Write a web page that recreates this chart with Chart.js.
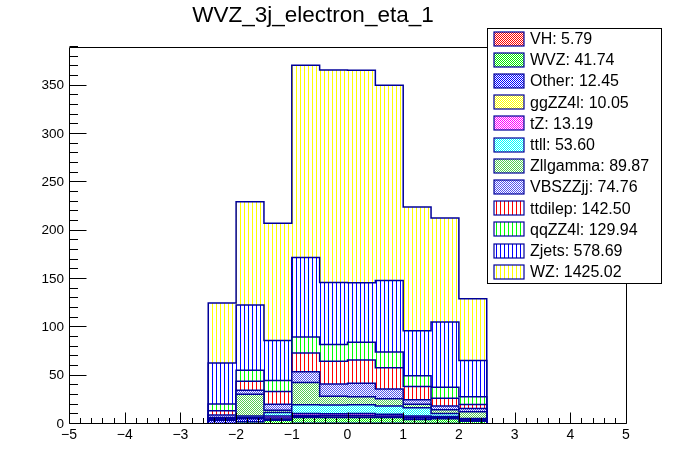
<!DOCTYPE html>
<html>
<head>
<meta charset="utf-8">
<script src="https://cdn.jsdelivr.net/npm/chart.js"></script>
<style>
  html, body { margin: 0; padding: 0; background: #fff; }
  #wrap { width: 696px; height: 472px; }
</style>
</head>
<body>
<div id="wrap"><canvas id="histChart" width="696" height="472"></canvas></div>
<script>
// bin edges of the eta histogram (only non-empty range)
const binEdges = [-2.5, -2, -1.5, -1, -0.5, 0, 0.5, 1, 1.5, 2, 2.5];

// per-bin yields, stack order bottom -> top
const VH       = [0.2, 0.4, 0.3, 0.8, 0.8, 0.8, 0.7, 0.6, 0.4, 0.3];
const WVZ      = [0.3, 2.0, 3.7, 6.0, 6.0, 6.0, 6.0, 4.0, 5.0, 2.5];
const Other    = [3.5, 3.0, 1.0, 0.6, 0.5, 0.5, 0.5, 1.5, 0.4, 1.0];
const ggZZ4l   = [0.5, 0.6, 1.2, 1.5, 1.5, 1.5, 1.2, 1.0, 1.0, 0.6];
const tZ       = [0.3, 0.6, 2.0, 2.0, 1.8, 2.0, 1.8, 1.2, 1.0, 0.5];
const ttll     = [1.0, 1.7, 3.6, 9.0, 9.0, 9.0, 8.5, 8.5, 3.0, 0.8];
const Zllgamma = [1.0, 22.5, 2.5, 23.1, 9.0, 8.5, 7.5, 3.7, 4.0, 7.0];
const VBSZZjj  = [2.6, 4.1, 6.1, 11.1, 12.8, 13.8, 10.1, 4.7, 3.8, 3.4];
const ttdilep  = [4.3, 9.3, 13.2, 19.3, 23.4, 24.2, 21.8, 13.5, 8.1, 4.2];
const qqZZ4l   = [6.9, 11.4, 11.4, 16.6, 17.5, 18.3, 16.5, 11.3, 11.3, 7.9];
const Zjets    = [42.6, 67.4, 41.4, 82.2, 64.0, 61.4, 73.8, 46.5, 67.6, 37.6];
const WZ       = [62.0, 107.0, 121.4, 199.0, 220.0, 220.0, 202.0, 128.0, 107.4, 63.8];

const seriesNames  = ['VH', 'WVZ', 'Other', 'ggZZ4l', 'tZ', 'ttll', 'Zllgamma', 'VBSZZjj', 'ttdilep', 'qqZZ4l', 'Zjets', 'WZ'];
const seriesValues = [VH, WVZ, Other, ggZZ4l, tZ, ttll, Zllgamma, VBSZZjj, ttdilep, qqZZ4l, Zjets, WZ];
const legendTotals = ['5.79', '41.74', '12.45', '10.05', '13.19', '53.60', '89.87', '74.76', '142.50', '129.94', '578.69', '1425.02'];

const xTicks = [-5, -4, -3, -2, -1, 0, 1, 2, 3, 4, 5];
const yMax = 390;

// fill styles (ROOT-ish hatches)
const fillStyles = [
  ['#ff0000', 'dense'], ['#00ee00', 'dense'], ['#0000ff', 'dense'], ['#ffff00', 'dense'],
  ['#ff00ff', 'dense'], ['#00ffff', 'dense'], ['#55cc55', 'dense'], ['#5555ee', 'dense'],
  ['#ff0000', 'vert'], ['#00ff00', 'vert'], ['#0000ff', 'vert'], ['#ffff00', 'vert'],
];
const lineColor = '#00009a';

function makePattern(color, kind) {
  const c = document.createElement('canvas');
  const g = c.getContext('2d');
  if (kind === 'vert') {
    c.width = 4; c.height = 4;
    g.fillStyle = '#fff'; g.fillRect(0, 0, 4, 4);
    g.fillStyle = color; g.fillRect(0, 0, 1, 4);
  } else {
    c.width = 2; c.height = 2;
    g.fillStyle = '#fff'; g.fillRect(0, 0, 2, 2);
    g.fillStyle = color; g.fillRect(0, 0, 1, 1); g.fillRect(1, 1, 1, 1);
  }
  return g.createPattern(c, 'repeat');
}
const patterns = fillStyles.map(([col, kind]) => makePattern(col, kind));

// cumulative stack -> step outline points
function stackPoints() {
  const out = [];
  const run = new Array(binEdges.length - 1).fill(0);
  seriesValues.forEach(vals => {
    vals.forEach((v, i) => { run[i] += v; });
    const pts = [{ x: binEdges[0], y: 0 }];
    run.forEach((v, i) => pts.push({ x: binEdges[i], y: v }));
    pts.push({ x: binEdges[binEdges.length - 1], y: 0 });
    out.push(pts);
  });
  return out;
}

const stacked = stackPoints();
const datasets = seriesNames.map((name, i) => ({
  label: name,
  data: stacked[i],
  stepped: 'before',
  fill: 'origin',
  backgroundColor: patterns[i],
  borderColor: lineColor,
  borderWidth: 1.5,
  pointRadius: 0,
}));

const rootAxes = {
  id: 'rootAxes',
  afterDatasetsDraw(chart) {
    const { ctx, chartArea: a, scales: { x, y } } = chart;
    ctx.save();
    ctx.strokeStyle = '#000';
    ctx.lineWidth = 1;
    ctx.beginPath();
    ctx.rect(Math.round(a.left) + 0.5, Math.round(a.top) + 0.5,
             Math.round(a.right - a.left), Math.round(a.bottom - a.top) - 1);
    const bot = Math.round(a.bottom) - 0.5;
    for (let k = 0; k <= 50; k++) {
      const v = -5 + k * 0.2;
      const px = Math.round(x.getPixelForValue(v)) + 0.5;
      const len = k % 5 === 0 ? 11 : 5.5;
      ctx.moveTo(px, bot); ctx.lineTo(px, bot - len);
    }
    const lft = Math.round(a.left) + 0.5;
    for (let v = 0; v <= yMax; v += 10) {
      const py = Math.round(y.getPixelForValue(v)) - 0.5;
      const len = v % 50 === 0 ? 17 : 8.5;
      ctx.moveTo(lft, py); ctx.lineTo(lft + len, py);
    }
    ctx.stroke();
    ctx.restore();
  }
};

const rootLegend = {
  id: 'rootLegend',
  afterDraw(chart) {
    const ctx = chart.ctx;
    const bx = 487.5, by = 28.5, bw = 174, bh = 255;
    ctx.save();
    ctx.fillStyle = '#fff';
    ctx.fillRect(bx, by, bw, bh);
    ctx.strokeStyle = '#000';
    ctx.lineWidth = 1;
    ctx.strokeRect(bx, by, bw, bh);
    ctx.font = "16px 'Liberation Sans', Arial, sans-serif";
    ctx.textBaseline = 'middle';
    ctx.textAlign = 'left';
    seriesNames.forEach((name, i) => {
      const cy = 38.5 + i * 21.2;
      ctx.fillStyle = patterns[i];
      ctx.fillRect(494, Math.round(cy - 7), 30, 14);
      ctx.strokeStyle = lineColor;
      ctx.lineWidth = 1.2;
      ctx.strokeRect(494, Math.round(cy - 7), 30, 14);
      ctx.fillStyle = '#000';
      ctx.fillText(name + ': ' + legendTotals[i], 530, cy + 1);
    });
    ctx.restore();
  }
};

Chart.defaults.font.family = "'Liberation Sans', Arial, sans-serif";
Chart.defaults.color = '#000';

new Chart(document.getElementById('histChart'), {
  type: 'line',
  data: { datasets },
  options: {
    responsive: false,
    animation: false,
    events: [],
    layout: { padding: { top: 0, left: 0, right: 70, bottom: 0 } },
    plugins: {
      legend: { display: false },
      tooltip: { enabled: false },
      title: {
        display: true,
        text: 'WVZ_3j_electron_eta_1',
        color: '#000',
        font: { size: 22.5, weight: 'normal' },
        padding: { top: 2, bottom: 18 },
      },
    },
    scales: {
      x: {
        type: 'linear',
        min: -5, max: 5,
        afterBuildTicks: s => { s.ticks = xTicks.map(v => ({ value: v })); },
        afterFit: s => { s.height = 48; },
        grid: { display: false, drawTicks: false },
        border: { display: false },
        ticks: {
          font: { size: 14 },
          padding: 3,
          maxRotation: 0,
          autoSkip: false,
          callback: v => (v < 0 ? '\u2212' + Math.abs(v) : String(v)),
        },
      },
      y: {
        type: 'linear',
        min: 0, max: yMax,
        afterFit: s => { s.width = 69; },
        grid: { display: false, drawTicks: false },
        border: { display: false },
        ticks: { stepSize: 50, includeBounds: false, font: { size: 13.5 }, padding: 5 },
      },
    },
  },
  plugins: [rootAxes, rootLegend],
});
</script>
</body>
</html>
